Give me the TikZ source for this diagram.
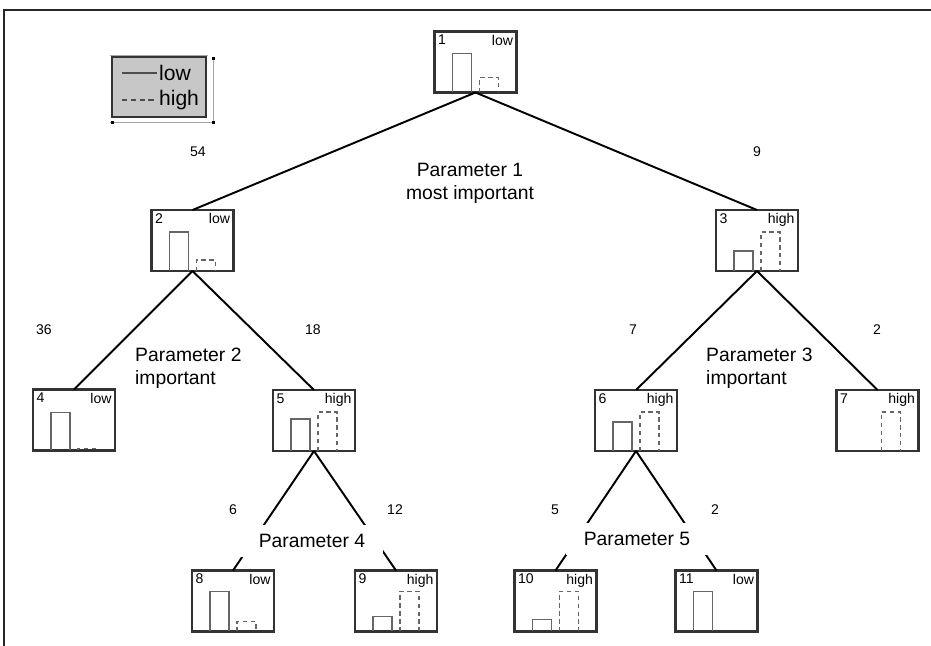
\documentclass[tikz,border=0pt]{standalone}
\usepackage{fontspec}
\setmainfont{Liberation Sans}

\tikzset{
    box/.style = {draw = black!80, line width = 1.4pt, minimum width = 1.64cm, minimum height = 1.22cm, inner sep = 0pt, outer sep = 0pt},
    tag/.style = {font = \fontsize{8}{9}\selectfont, inner sep = 1.8pt},
    count/.style = {font = \fontsize{8}{9}\selectfont},
    param/.style = {font = \fontsize{11}{13}\selectfont},
    edge/.style = {line width = 1.1pt},
    lowbar/.style = {draw = black!60, line width = 1pt},
    highbar/.style = {draw = black!60, line width = 1pt, dash pattern = on 2.5pt off 2pt}
}

% box with number, level and the two bars (heights in px)
\newcommand{\histbox}[6]{%
    \node[box] (#1) at (#2) {};
    \node[tag, anchor = north west] at (#1.north west) {#3};
    \node[tag, anchor = north east] at (#1.north east) {#4};
    \begin{scope}[shift = {(#1.south west)}]
        \ifnum#5>0 \draw[lowbar] (18, 0) -- (18, -#5) -- (37, -#5) -- (37, 0); \fi
        \ifnum#6>0 \draw[highbar] (45, 0) -- (45, -#6) -- (64, -#6) -- (64, 0); \fi
    \end{scope}
}

\begin{document}
\begin{tikzpicture}[x = 0.02cm, y = -0.02cm]
        \useasboundingbox (0, 0) rectangle (931, 646);
        \draw[black!85, line width = 0.6pt] (4, 646) -- (4, 10) -- (931, 10);

        % legend
        \draw[black!35, line width = 0.4pt] (110, 55) -- (208, 55);
        \draw[black!35, line width = 0.4pt] (213, 57) -- (213, 122) -- (110, 122);
        \fill[black] (211.5, 56.5) rectangle +(3, 3);
        \fill[black] (110.5, 121) rectangle +(3, 3);
        \fill[black] (211.5, 121) rectangle +(3, 3);
        \filldraw[draw = black!80, fill = black!22, line width = 1.4pt] (112, 57) rectangle (206, 117);
        \coordinate (l1) at (122, 73);
        \coordinate (l2) at (122, 100);
        \node[font = \fontsize{12}{14}\selectfont, anchor = west, inner sep = 1pt] (lowkey) at (157, 73) {low};
        \node[font = \fontsize{12}{14}\selectfont, anchor = west, inner sep = 1pt] (highkey) at (157, 100) {high};
        \draw[black!70, line width = 0.8pt] (l1) -- (lowkey.west);
        \draw[black!70, line width = 0.8pt, dash pattern = on 3pt off 2pt] (l2) -- (highkey.west);

        % boxes
        \histbox{b1}{475.5, 62}{1}{low}{39}{15}
        \histbox{b2}{192.5, 240.5}{2}{low}{39}{11}
        \histbox{b3}{757, 240.5}{3}{high}{20}{39}
        \histbox{b4}{74, 420}{4}{low}{38}{2}
        \histbox{b5}{314, 420.5}{5}{high}{32}{39}
        \histbox{b6}{636, 420.5}{6}{high}{29}{39}
        \histbox{b7}{877.5, 420.5}{7}{high}{0}{39}
        \histbox{b8}{233, 601}{8}{low}{40}{10}
        \histbox{b9}{396, 601}{9}{high}{15}{40}
        \histbox{b10}{555.5, 601}{10}{high}{12}{40}
        \histbox{b11}{716.5, 601}{11}{low}{40}{0}

        % splits
        \draw[edge] (b1.south) -- (b2.north);
        \draw[edge] (b1.south) -- (b3.north);
        \draw[edge] (b2.south) -- (b4.north);
        \draw[edge] (b2.south) -- (b5.north);
        \draw[edge] (b3.south) -- (b6.north);
        \draw[edge] (b3.south) -- (b7.north);
        \draw[edge] (b5.south) -- (b8.north);
        \draw[edge] (b5.south) -- (b9.north);
        \draw[edge] (b6.south) -- (b10.north);
        \draw[edge] (b6.south) -- (b11.north);

        % parameter names
        \node[param, align = center] (p1) at (470, 183) {Parameter 1\\most important};
        \node[param, align = left, anchor = west] (p2) at (129, 368) {Parameter 2\\important};
        \node[param, align = left, anchor = west] (p3) at (700, 368) {Parameter 3\\important};
        \node[param, fill = white, inner xsep = 10pt, inner ysep = 5.5pt] (p4) at (312, 541) {Parameter 4};
        \node[param, fill = white, inner xsep = 10pt, inner ysep = 5.5pt] (p5) at (637, 539) {Parameter 5};

        % counts
        \node[count] at (198, 152) {54};
        \node[count] at (757, 152) {9};
        \node[count] at (44, 330) {36};
        \node[count] at (313, 330) {18};
        \node[count] at (633, 330) {7};
        \node[count] at (877, 330) {2};
        \node[count] at (233, 510) {6};
        \node[count] at (395, 510) {12};
        \node[count] at (555, 510) {5};
        \node[count] at (715, 510) {2};
    \end{tikzpicture}
\end{document}
